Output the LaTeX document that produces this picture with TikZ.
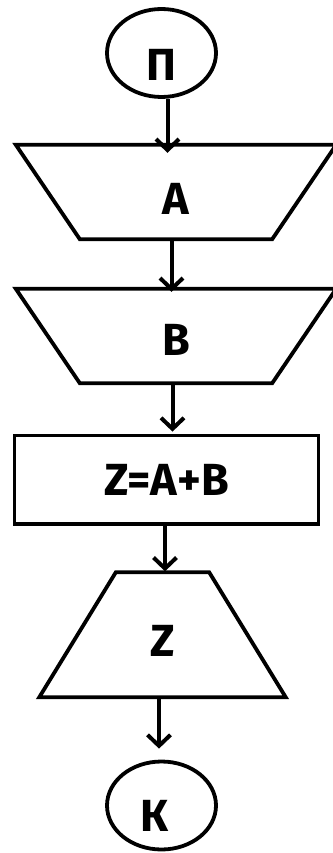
\documentclass[tikz,border=0pt]{standalone}
\usepackage{fontspec}
\setmainfont{Fira Sans}
\usetikzlibrary{arrows.meta,shapes.geometric}
\begin{document}
\begin{tikzpicture}[x=1pt,y=-1pt,
  lw/.style={line width=3.8pt},
  lbl/.style={font=\fontsize{45}{50}\selectfont\bfseries, inner sep=0pt, text depth=0pt},
  term/.style={lbl, ellipse, draw, lw, minimum width=109pt, minimum height=88pt},
  procbox/.style={lbl, rectangle, draw, lw},
  arr/.style={line width=4pt, -{Straight Barb[length=11pt,width=23pt,line width=4pt]}}
]
\useasboundingbox (0,0) rectangle (332,853);
\fill[white] (0,0) rectangle (332,853);
% nodes
\node[term, text height=55pt] (p) at (161.5,53) {П};
\node[lbl, minimum width=320pt, minimum height=94pt, text height=45pt] (a) at (176,192) {A};
\node[lbl, minimum width=320pt, minimum height=94pt, text height=39pt] (b) at (176,336) {B};
\node[procbox, minimum width=304pt, minimum height=88.5pt, text height=31pt] (r) at (166.5,479.75) {Z=A+B};
\node[lbl, minimum width=246pt, minimum height=124.5pt, text height=43pt] (z) at (162.5,634.75) {Z};
\node[term, text height=51pt] (k) at (161.5,805.5) {К\hspace*{13pt}};
% shapes of input/output blocks
\draw[lw, line join=miter] (a.north west) -- (a.north east) -- ([xshift=-64pt]a.south east) -- ([xshift=64pt]a.south west) -- cycle;
\draw[lw, line join=miter] (b.north west) -- (b.north east) -- ([xshift=-64pt]b.south east) -- ([xshift=64pt]b.south west) -- cycle;
\draw[lw, line join=miter] ([xshift=76.5pt]z.north west) -- ([xshift=-76.5pt]z.north east) -- (z.south east) -- (z.south west) -- cycle;
% connectors
\draw[arr, shorten >=-8pt] ([xshift=6pt]p.south) -- ([xshift=6pt]p.south |- a.north);
\draw[arr, shorten >=-3pt] ([xshift=-4.5pt]a.south) -- ([xshift=-4.5pt]a.south |- b.north);
\draw[arr, shorten >=2pt] ([xshift=-3.5pt]b.south) -- ([xshift=-3.5pt]b.south |- r.north);
\draw[arr, shorten >=1pt] ([xshift=-1.5pt]r.south) -- ([xshift=-1.5pt]r.south |- z.north);
\draw[arr, shorten >=11pt] ([xshift=-3.5pt]z.south) -- ([xshift=-3.5pt]z.south |- k.north);
\end{tikzpicture}
\end{document}
